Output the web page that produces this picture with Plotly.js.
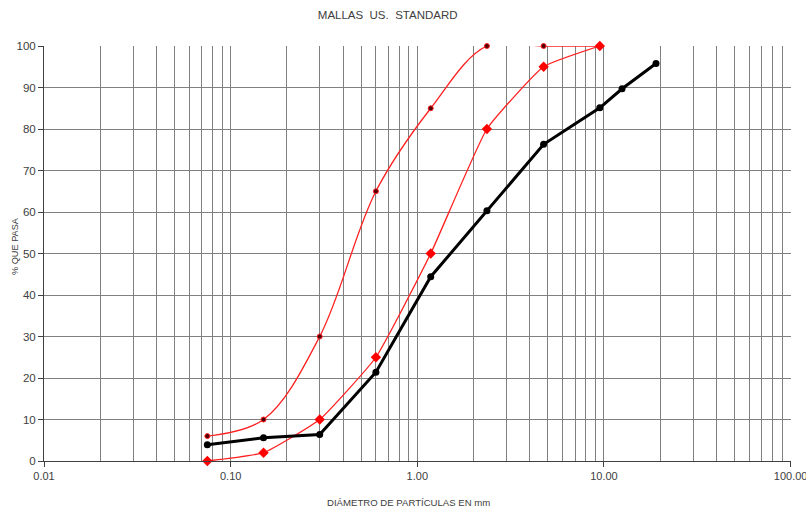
<!DOCTYPE html>
<html>
<head>
<meta charset="utf-8">
<script src="https://cdn.plot.ly/plotly-3.0.1.min.js"></script>
<style>html,body{margin:0;padding:0;background:#fff;}#chart{width:806px;height:513px;}</style>
</head>
<body>
<div id="chart"></div>
<script>
// Sieve openings (mm)
var sieves = [0.075, 0.15, 0.3, 0.6, 1.18, 2.36, 4.75, 9.5];
// Upper limit of gradation band (% passing)
var upperLimit = [6, 10, 30, 65, 85, 100, 100, 100];
// Lower limit of gradation band (% passing)
var lowerLimit = [0, 2, 10, 25, 50, 80, 95, 100];
// Sample sieves and % passing
var sampleSieves = [0.075, 0.15, 0.3, 0.6, 1.18, 2.36, 4.75, 9.5, 12.5, 19];
var samplePassing = [3.9, 5.6, 6.4, 21.4, 44.4, 60.3, 76.3, 85.1, 89.7, 95.8];
// Axis ticks
var xTickVals = [0.01, 0.1, 1, 10, 100];
var xTickText = ["0.01", "0.10", "1.00", "10.00", "100.00"];
var yTickVals = [0, 10, 20, 30, 40, 50, 60, 70, 80, 90, 100];

var FONT = "Liberation Sans, Arial, sans-serif";

var traces = [
  {
    x: sieves, y: upperLimit, type: "scatter", mode: "lines+markers",
    line: {color: "#ff2020", width: 1.3, shape: "spline", smoothing: 1},
    marker: {symbol: "circle", size: 5, color: "#500000", line: {color: "#ff2020", width: 1}},
    cliponaxis: false, showlegend: false, hoverinfo: "x+y"
  },
  {
    x: sieves, y: lowerLimit, type: "scatter", mode: "lines+markers",
    line: {color: "#ff2020", width: 1.3, shape: "spline", smoothing: 0.4},
    marker: {symbol: "diamond", size: 8, color: "#ff0000"},
    cliponaxis: false, showlegend: false, hoverinfo: "x+y"
  },
  {
    x: sampleSieves, y: samplePassing, type: "scatter", mode: "lines+markers",
    line: {color: "#000000", width: 3},
    marker: {symbol: "circle", size: 7, color: "#000000"},
    cliponaxis: false, showlegend: false, hoverinfo: "x+y"
  }
];

var layout = {
  width: 806, height: 513,
  margin: {l: 44, r: 15, t: 46, b: 52},
  paper_bgcolor: "#ffffff", plot_bgcolor: "#ffffff",
  font: {family: FONT, color: "#404040", size: 11},
  title: {text: "MALLAS  US.  STANDARD", x: 0.481, xanchor: "center", y: 0.971, yanchor: "middle",
          font: {family: FONT, size: 11.5, color: "#404040"}},
  xaxis: {
    type: "log", range: [-2, 2.002], fixedrange: true,
    tickmode: "array", tickvals: xTickVals, ticktext: xTickText,
    ticklabeloverflow: "allow",
    ticks: "outside", ticklen: 5, tickcolor: "#404040", tickwidth: 1,
    showgrid: true, gridcolor: "#808080", gridwidth: 1,
    minor: {dtick: "D1", showgrid: true, gridcolor: "#808080", gridwidth: 1, ticks: ""},
    showline: true, linecolor: "#404040", linewidth: 1,
    zeroline: false,
    tickfont: {family: FONT, size: 11, color: "#404040"}
  },
  yaxis: {
    range: [0, 100], fixedrange: true,
    tickmode: "array", tickvals: yTickVals,
    ticks: "outside", ticklen: 5, tickcolor: "#404040", tickwidth: 1,
    showgrid: true, gridcolor: "#808080", gridwidth: 1,
    showline: true, linecolor: "#404040", linewidth: 1,
    zeroline: false,
    tickfont: {family: FONT, size: 11.5, color: "#404040"}
  },
  annotations: [
    {text: "DIÁMETRO DE PARTÍCULAS EN mm", xref: "paper", yref: "paper",
     x: 0.4886, y: -0.101, xanchor: "center", yanchor: "middle", showarrow: false,
     font: {family: FONT, size: 9.6, color: "#404040"}},
    {text: "% QUE PASA", xref: "paper", yref: "paper", textangle: -90,
     x: -0.0388, y: 0.518, xanchor: "center", yanchor: "middle", showarrow: false,
     font: {family: FONT, size: 9.2, color: "#404040"}}
  ]
};

Plotly.newPlot("chart", traces, layout, {displayModeBar: false, staticPlot: true});
</script>
</body>
</html>
